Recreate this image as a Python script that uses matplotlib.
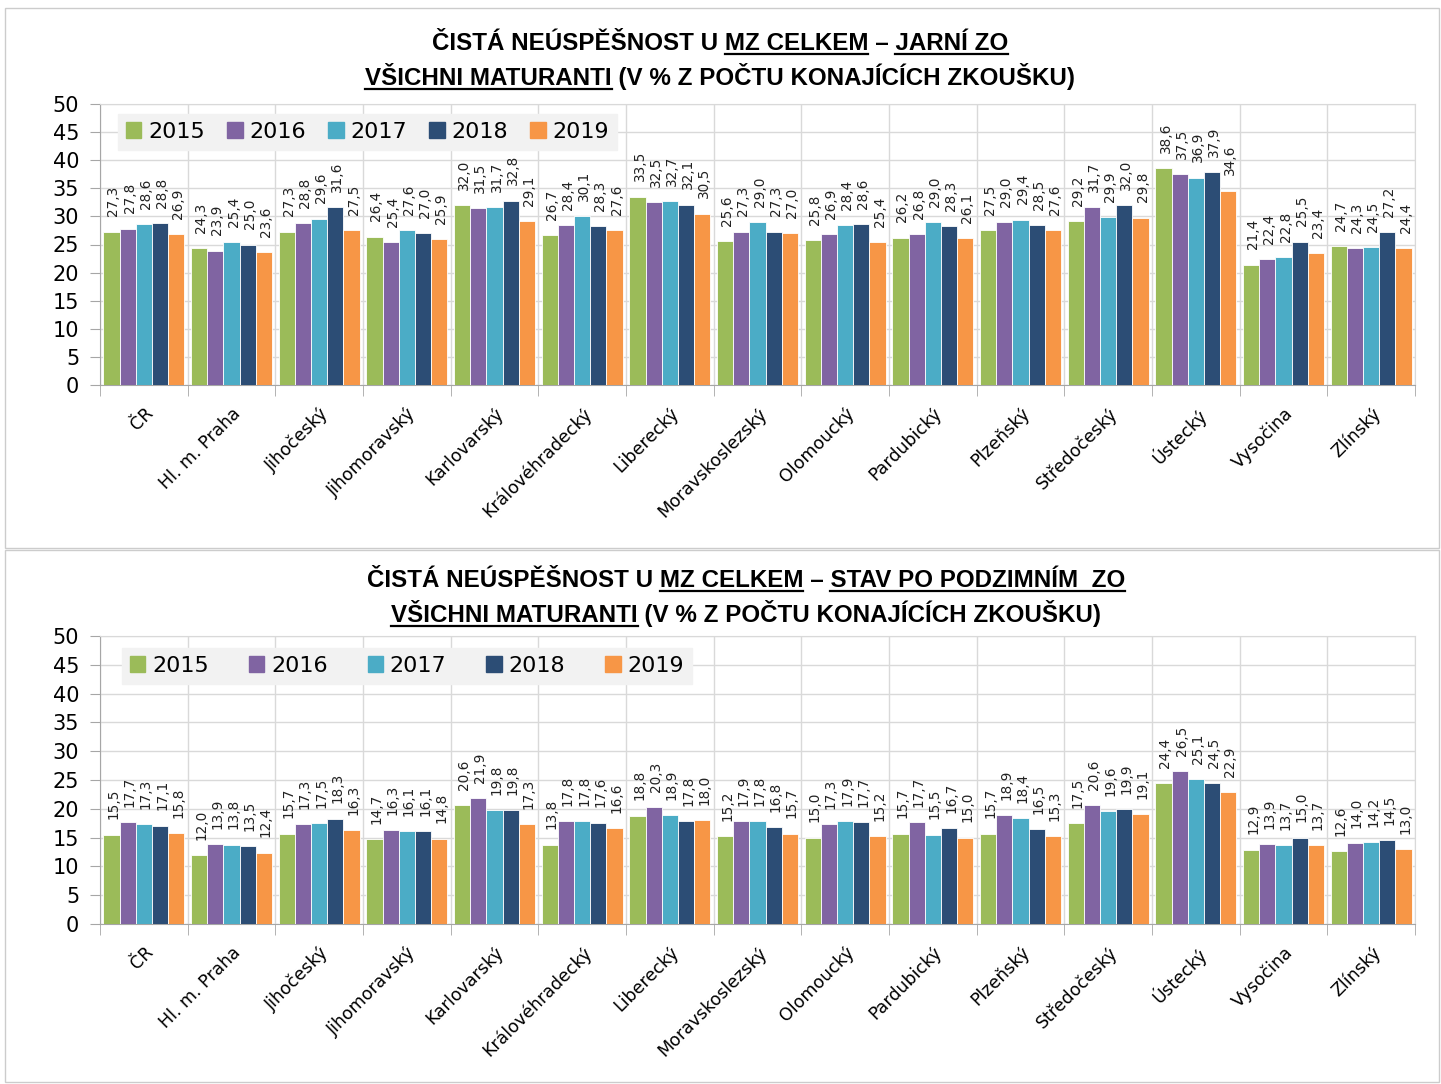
import numpy as np
import matplotlib as mpl
import matplotlib.pyplot as plt
from matplotlib.patches import Patch, Rectangle
from matplotlib.lines import Line2D

kraje = ['ČR', 'Hl. m. Praha', 'Jihočeský', 'Jihomoravský', 'Karlovarský',
         'Královéhradecký', 'Liberecký', 'Moravskoslezský', 'Olomoucký',
         'Pardubický', 'Plzeňský', 'Středočeský', 'Ústecký', 'Vysočina', 'Zlínský']
roky = ['2015', '2016', '2017', '2018', '2019']
barvy = ['#9BBB59', '#8064A2', '#4BACC6', '#2C4D75', '#F79646']

# jarni zkusebni obdobi
jaro_2015 = [27.3, 24.3, 27.3, 26.4, 32.0, 26.7, 33.5, 25.6, 25.8, 26.2, 27.5, 29.2, 38.6, 21.4, 24.7]
jaro_2016 = [27.8, 23.9, 28.8, 25.4, 31.5, 28.4, 32.5, 27.3, 26.9, 26.8, 29.0, 31.7, 37.5, 22.4, 24.3]
jaro_2017 = [28.6, 25.4, 29.6, 27.6, 31.7, 30.1, 32.7, 29.0, 28.4, 29.0, 29.4, 29.9, 36.9, 22.8, 24.5]
jaro_2018 = [28.8, 25.0, 31.6, 27.0, 32.8, 28.3, 32.1, 27.3, 28.6, 28.3, 28.5, 32.0, 37.9, 25.5, 27.2]
jaro_2019 = [26.9, 23.6, 27.5, 25.9, 29.1, 27.6, 30.5, 27.0, 25.4, 26.1, 27.6, 29.8, 34.6, 23.4, 24.4]

# stav po podzimnim zkusebnim obdobi
podzim_2015 = [15.5, 12.0, 15.7, 14.7, 20.6, 13.8, 18.8, 15.2, 15.0, 15.7, 15.7, 17.5, 24.4, 12.9, 12.6]
podzim_2016 = [17.7, 13.9, 17.3, 16.3, 21.9, 17.8, 20.3, 17.9, 17.3, 17.7, 18.9, 20.6, 26.5, 13.9, 14.0]
podzim_2017 = [17.3, 13.8, 17.5, 16.1, 19.8, 17.8, 18.9, 17.8, 17.9, 15.5, 18.4, 19.6, 25.1, 13.7, 14.2]
podzim_2018 = [17.1, 13.5, 18.3, 16.1, 19.8, 17.6, 17.8, 16.8, 17.7, 16.7, 16.5, 19.9, 24.5, 15.0, 14.5]
podzim_2019 = [15.8, 12.4, 16.3, 14.8, 17.3, 16.6, 18.0, 15.7, 15.2, 15.0, 15.3, 19.1, 22.9, 13.7, 13.0]

jaro = [jaro_2015, jaro_2016, jaro_2017, jaro_2018, jaro_2019]
podzim = [podzim_2015, podzim_2016, podzim_2017, podzim_2018, podzim_2019]

W, H = 1441, 1084
fig = plt.figure(figsize=(W / 100, H / 100), dpi=100)
fig.patch.set_facecolor('white')

seda = '#d9d9d9'
tfont = dict(family=['Liberation Sans', 'DejaVu Sans'], weight='bold', size=17.4)


def titulek(cx, ybase, segmenty):
    # cx, ybase v pixelech (od shora); segmenty = [(text, podtrzeno)]
    r = fig.canvas.get_renderer()
    text = ''.join(s for s, _ in segmenty)
    y = 1 - ybase / H
    t = fig.text(cx / W, y, text, ha='center', va='baseline', **tfont)
    x0 = t.get_window_extent(r).x0
    pos = 0
    for s, u in segmenty:
        pos += len(s)
        if not u:
            continue
        tmp = fig.text(0, 0, text[:pos], **tfont)
        w_end = tmp.get_window_extent(r).width
        tmp.remove()
        tmp = fig.text(0, 0, s, **tfont)
        w_s = tmp.get_window_extent(r).width
        tmp.remove()
        xe = x0 + w_end
        xs = xe - w_s
        yl = 1 - (ybase + 4) / H
        fig.add_artist(Line2D([xs / W, xe / W], [yl, yl], transform=fig.transFigure,
                              color='black', lw=1.6))


def graf(rect, data, leg_anchor, colsp):
    ax = fig.add_axes(rect)
    x = np.arange(len(kraje))
    sirka = 0.185
    for i, (rok, hodnoty) in enumerate(zip(roky, data)):
        pozice = x + (i - 2) * sirka
        ax.bar(pozice, hodnoty, width=sirka, color=barvy[i], edgecolor='white',
               linewidth=0.6, zorder=3)
        for px, v in zip(pozice, hodnoty):
            ax.annotate(f'{v:.1f}'.replace('.', ','), (px, v), xytext=(1.5, 11),
                        textcoords='offset points', rotation=90, ha='center',
                        va='bottom', fontsize=9.8, color='#222222', zorder=4)
    ax.set_xlim(-0.5, len(kraje) - 0.5)
    ax.set_ylim(0, 50)
    ax.set_yticks(np.arange(0, 51, 5))
    ax.set_xticks(x)
    ax.set_xticklabels(kraje, rotation=45, ha='right', rotation_mode='anchor', fontsize=12.5)
    ax.set_xticks(np.arange(-0.5, len(kraje), 1), minor=True)
    ax.tick_params(axis='x', which='major', length=0, pad=14)
    ax.tick_params(axis='x', which='minor', length=8, color='#a6a6a6')
    ax.tick_params(axis='y', length=7, color='#a6a6a6', labelsize=15, pad=8)
    ax.grid(axis='y', color=seda, lw=1, zorder=0)
    ax.grid(axis='x', which='minor', color=seda, lw=1, zorder=0)
    for sp in ax.spines.values():
        sp.set_color(seda)
    ax.spines['left'].set_color('#a6a6a6')
    ax.spines['bottom'].set_color('#a6a6a6')
    handles = [Patch(color=c, label=r) for c, r in zip(barvy, roky)]
    leg = ax.legend(handles=handles, ncol=5, loc='upper left', bbox_to_anchor=leg_anchor,
                    borderaxespad=0, fontsize=16, frameon=True, fancybox=False,
                    handlelength=0.7, handleheight=0.7, handletextpad=0.3,
                    columnspacing=colsp, borderpad=0.35)
    leg.get_frame().set_facecolor('#f2f2f2')
    leg.get_frame().set_edgecolor('#f2f2f2')
    leg.get_frame().set_alpha(1)
    leg.set_zorder(5)
    return ax


# ramecky kolem obou grafu
fig.add_artist(Rectangle((5 / W, 1 - 548 / H), 1434 / W, 540 / H, transform=fig.transFigure,
                         fill=False, edgecolor='#cccccc', lw=1))
fig.add_artist(Rectangle((5 / W, 1 - 1082 / H), 1434 / W, 532 / H, transform=fig.transFigure,
                         fill=False, edgecolor='#cccccc', lw=1))

graf([100 / W, 1 - 385 / H, 1315 / W, 281 / H], jaro, (0.0137, 0.964), 1.0)
graf([100 / W, 1 - 924 / H, 1315 / W, 288 / H], podzim, (0.0167, 0.958), 1.8)

titulek(720, 50, [('ČISTÁ NEÚSPĚŠNOST U ', False), ('MZ CELKEM', True), (' – ', False),
                  ('JARNÍ ZO', True)])
titulek(720, 85, [('VŠICHNI MATURANTI', True), (' (V % Z POČTU KONAJÍCÍCH ZKOUŠKU)', False)])
titulek(746, 587, [('ČISTÁ NEÚSPĚŠNOST U ', False), ('MZ CELKEM', True), (' – ', False),
                   ('STAV PO PODZIMNÍM  ZO', True)])
titulek(746, 622, [('VŠICHNI MATURANTI', True), (' (V % Z POČTU KONAJÍCÍCH ZKOUŠKU)', False)])

fig.savefig('out.png', dpi=100)
